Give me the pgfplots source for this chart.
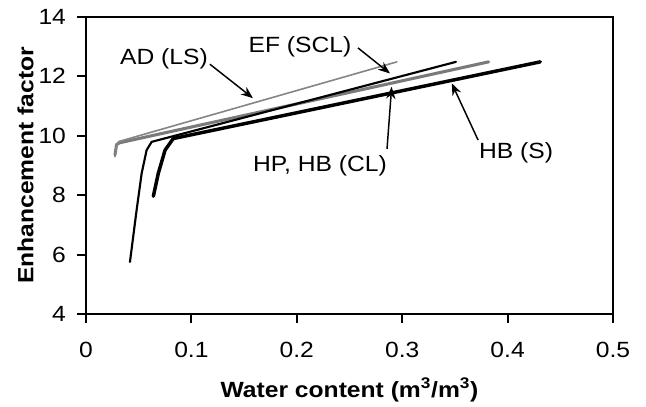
\documentclass[border=0pt]{standalone}
\usepackage{fontspec}
\setmainfont[FakeStretch=1.12]{Liberation Sans}
\usepackage{pgfplots}
\pgfplotsset{compat=1.18}
\usetikzlibrary{arrows.meta,calc}
\definecolor{lgray}{HTML}{858585}
\definecolor{dgray}{HTML}{7A7A7A}
\newcommand{\lblfont}{\fontsize{16.5}{18}\selectfont}
\begin{document}
\begin{tikzpicture}
\begin{axis}[
  name=ax,
  scale only axis,
  width=395.25pt, height=223pt,
  xmin=0, xmax=0.5, ymin=4, ymax=14,
  xtick={0,0.1,0.2,0.3,0.4,0.5},
  xticklabels={0,0.1,0.2,0.3,0.4,0.5},
  ytick={4,6,8,10,12,14},
  tick align=outside,
  major tick length=6.5pt,
  axis line style={line width=1.5pt},
  every tick/.style={line width=1.5pt,black},
  xtick pos=bottom, ytick pos=left,
  /pgf/number format/assume math mode=true,
  tick label style={font=\lblfont},
  xticklabel style={yshift=-11pt},
  yticklabel style={xshift=-5pt},
  every axis y label/.style={at={(axis description cs:-0.115,0.5)},rotate=90,anchor=center,font=\lblfont\bfseries},
  every axis x label/.style={at={(axis description cs:0.5,-0.255)},anchor=center,font=\lblfont\bfseries},
  ylabel={Enhancement factor},
  xlabel={Water content (m\textsuperscript{3}/m\textsuperscript{3})},
  clip=false,
]
% HP, HB (CL) - thick gray
\addplot[dgray, line width=2.3pt, line cap=round, line join=round] coordinates {
(0.0275,9.35) (0.0290,9.70) (0.0320,9.76) (0.382,12.48)};
% HB (S) - thick black
\addplot[black, line width=2.6pt, line cap=round, line join=round] coordinates {
(0.0639,7.96) (0.0686,8.73) (0.0750,9.51) (0.0828,9.90) (0.431,12.48)};
% EF (SCL) - thin black
\addplot[black, line width=1.6pt, line cap=round, line join=round] coordinates {
(0.0417,5.75) (0.0480,7.49) (0.0528,8.73) (0.0575,9.51) (0.0623,9.79) (0.351,12.48)};
% AD (LS) - thin gray
\addplot[lgray, line width=1.2pt, line cap=round, line join=round] coordinates {
(0.0275,9.29) (0.0285,9.60) (0.0310,9.80) (0.295,12.48)};
% annotations
\draw[line width=1.1pt,-{Stealth[length=9pt,width=7pt]}] (axis cs:0.1176,12.40) -- (axis cs:0.1584,11.26);
\draw[line width=1.1pt,-{Stealth[length=9pt,width=7pt]}] (axis cs:0.258,12.95) -- (axis cs:0.2884,12.09);
\draw[line width=1.1pt,-{Stealth[length=9pt,width=7pt]}] (axis cs:0.2856,9.55) -- (axis cs:0.290,11.64);
\draw[line width=1.1pt,-{Stealth[length=9pt,width=7pt]}] (axis cs:0.372,9.85) -- (axis cs:0.347,11.76);
\node[font=\lblfont] at (axis cs:0.074,12.58) {AD (LS)};
\node[font=\lblfont] at (axis cs:0.203,13.0) {EF (SCL)};
\node[font=\lblfont] at (axis cs:0.222,8.97) {HP, HB (CL)};
\node[font=\lblfont] at (axis cs:0.408,9.41) {HB (S)};
\end{axis}
\path ($(ax.south west)+(-64.5pt,-68.25pt)$) rectangle ($(ax.north east)+(24.75pt,12.5pt)$);
\end{tikzpicture}
\end{document}
